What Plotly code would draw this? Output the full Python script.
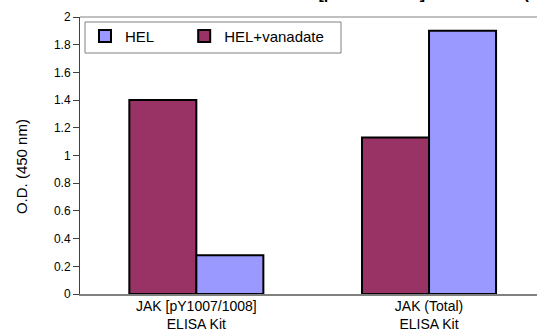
import plotly.graph_objects as go

# Kit categories (two-line labels) and optical density readings
categories = ["JAK [pY1007/1008]<br>ELISA Kit", "JAK (Total)<br>ELISA Kit"]
hel_vanadate = [1.40, 1.13]
hel = [0.28, 1.90]

y_ticks = [0, 0.2, 0.4, 0.6, 0.8, 1, 1.2, 1.4, 1.6, 1.8, 2]

FONT = "Liberation Sans, Arial, sans-serif"
MAROON = "#993366"
PERIWINKLE = "#9999FF"

# plot-area geometry in pixels, used to place the legend frame
W, H = 537, 332
ML, MT, MB = 80, 17, 38
PW, PH = W - ML, H - MT - MB


def px_x(px):
    return (px - ML) / PW


def px_y(px):
    return 1 - (px - MT) / PH


NBSP = "\u00a0"

fig = go.Figure()
fig.add_trace(go.Bar(
    name="HEL+vanadate", x=categories, y=hel_vanadate,
    marker=dict(color=MAROON, line=dict(color="black", width=2)),
    legendrank=2,
))
fig.add_trace(go.Bar(
    name="HEL" + NBSP * 6, x=categories, y=hel,
    marker=dict(color=PERIWINKLE, line=dict(color="black", width=2)),
    legendrank=1,
))

fig.update_layout(
    width=W, height=H,
    margin=dict(l=ML, r=0, t=MT, b=MB, autoexpand=False),
    paper_bgcolor="white", plot_bgcolor="white",
    barmode="group", bargap=0.424, bargroupgap=0,
    font=dict(family=FONT, size=12, color="black"),
    showlegend=True,
    legend=dict(
        orientation="h", x=px_x(85), y=0.99, xanchor="left", yanchor="top",
        bgcolor="rgba(0,0,0,0)", borderwidth=0,
        font=dict(family=FONT, size=15, color="black"),
    ),
    xaxis=dict(
        type="category", range=[-0.5, 1.464], automargin=False,
        showline=True, linecolor="#808080", linewidth=2,
        showgrid=False, ticks="", zeroline=False,
        ticklabelstandoff=-2,
        tickfont=dict(family=FONT, size=14, color="black"),
    ),
    yaxis=dict(
        range=[0, 2], tickvals=y_ticks, automargin=False,
        ticktext=[f"{v:g}" for v in y_ticks],
        showline=True, linecolor="#404040", linewidth=1,
        ticks="outside", ticklen=6, tickcolor="#404040",
        showgrid=False, zeroline=False,
        tickfont=dict(family=FONT, size=12, color="black"),
    ),
    shapes=[
        # plot-area frame along the top
        dict(type="line", xref="paper", yref="paper",
             x0=0, x1=1, y0=1, y1=1,
             line=dict(color="#808080", width=1)),
        # legend frame
        dict(type="rect", xref="paper", yref="paper",
             x0=px_x(85), x1=px_x(341), y0=px_y(53), y1=px_y(22),
             fillcolor="white", line=dict(color="#808080", width=1),
             layer="above"),
    ],
    annotations=[
        dict(text="O.D. (450 nm)", textangle=-90, xref="paper", yref="paper",
             x=0, y=0.46, xshift=-69, showarrow=False,
             font=dict(family=FONT, size=15, color="black")),
        dict(text="<b>JAK [pY1007/1008] & Total JAK (HEL Cells)</b>",
             xref="paper", yref="paper", x=0, y=1, xanchor="left",
             yanchor="bottom", xshift=200, yshift=13, showarrow=False,
             font=dict(family=FONT, size=16, color="black")),
    ],
)

fig.write_html("out.html")
